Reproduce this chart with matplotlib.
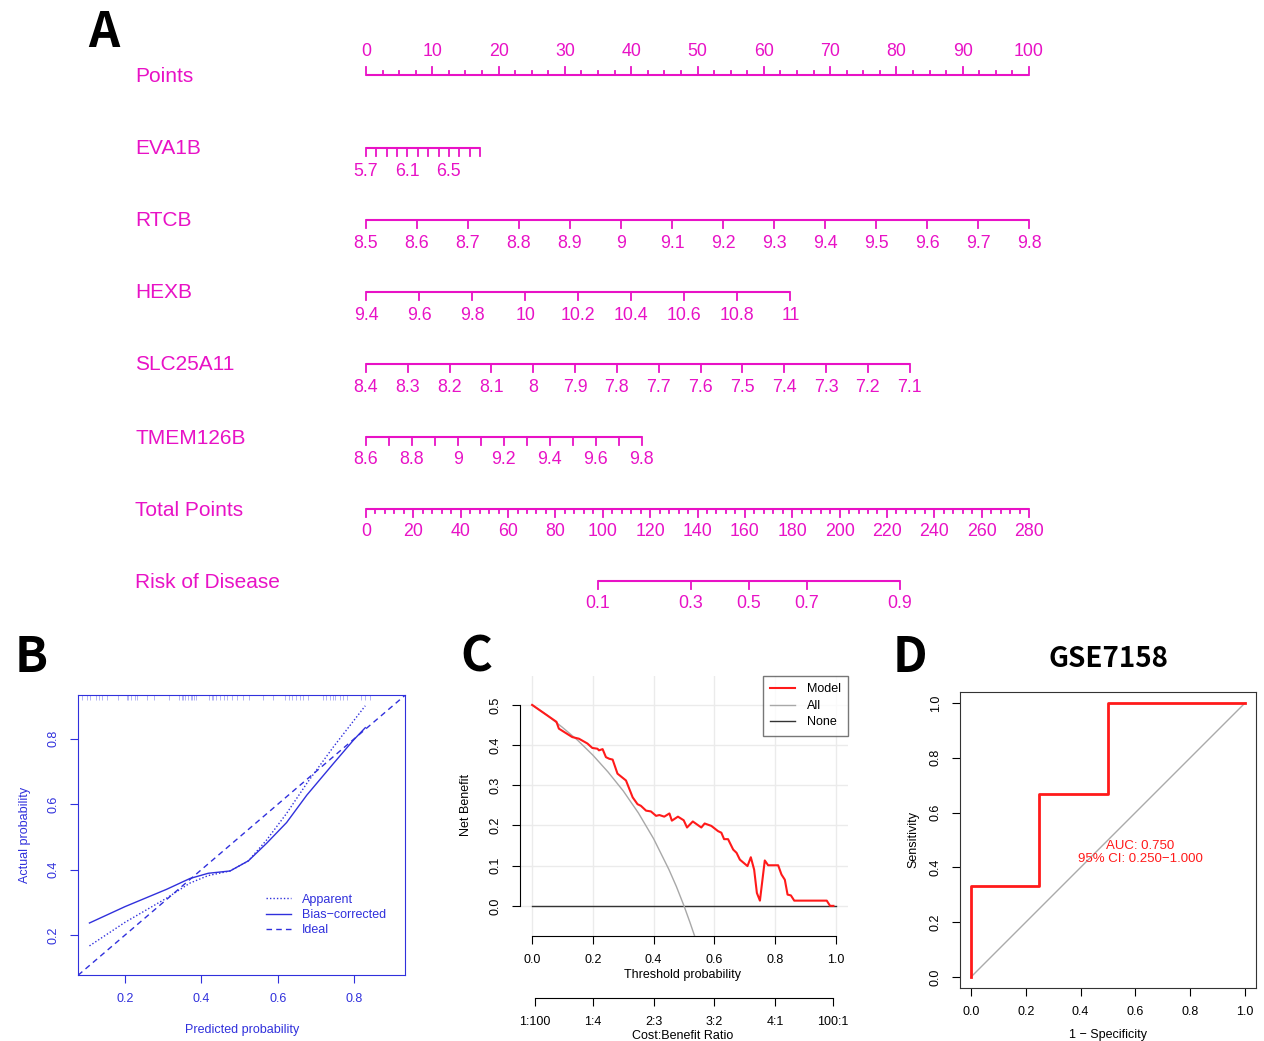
import numpy as np
import matplotlib
matplotlib.use("Agg")
import matplotlib.pyplot as plt
from matplotlib.lines import Line2D

plt.rcParams['font.family'] = ['Liberation Sans', 'DejaVu Sans']
LETTER_FONT = ['Noto Sans CJK SC', 'DejaVu Sans']

W, H = 1264, 1041

# ---------------- data: nomogram (A) ----------------
points_major = [0, 10, 20, 30, 40, 50, 60, 70, 80, 90, 100]
points_minor = list(np.arange(0, 100.1, 2.5))

# name, value at 0 points, value at end, points at end, tick values, labelled values
eva1b_ticks = [5.7, 5.8, 5.9, 6.0, 6.1, 6.2, 6.3, 6.4, 6.5, 6.6, 6.7, 6.8]
eva1b_labels = [5.7, 6.1, 6.5]
rtcb_ticks = [8.5, 8.6, 8.7, 8.8, 8.9, 9.0, 9.1, 9.2, 9.3, 9.4, 9.5, 9.6, 9.7, 9.8]
hexb_ticks = [9.4, 9.6, 9.8, 10.0, 10.2, 10.4, 10.6, 10.8, 11.0]
slc_ticks = [8.4, 8.3, 8.2, 8.1, 8.0, 7.9, 7.8, 7.7, 7.6, 7.5, 7.4, 7.3, 7.2, 7.1]
tmem_ticks = [8.6, 8.7, 8.8, 8.9, 9.0, 9.1, 9.2, 9.3, 9.4, 9.5, 9.6, 9.7, 9.8]
tmem_labels = [8.6, 8.8, 9.0, 9.2, 9.4, 9.6, 9.8]

variables = [
    ("EVA1B", 5.7, 6.8, 17.2, eva1b_ticks, eva1b_labels),
    ("RTCB", 8.5, 9.8, 100.0, rtcb_ticks, rtcb_ticks),
    ("HEXB", 9.4, 11.0, 64.0, hexb_ticks, hexb_ticks),
    ("SLC25A11", 8.4, 7.1, 82.0, slc_ticks, slc_ticks),
    ("TMEM126B", 8.6, 9.8, 41.6, tmem_ticks, tmem_labels),
]

total_major = [0, 20, 40, 60, 80, 100, 120, 140, 160, 180, 200, 220, 240, 260, 280]
total_minor = list(np.arange(0, 280.1, 4))
total_max = 280
risk_labels = [0.1, 0.3, 0.5, 0.7, 0.9]
risk_tp_at_half = 161.7     # total points where risk = 0.5
risk_tp_per_logit = 29.0    # total points per unit of linear predictor

# ---------------- data: calibration (B) ----------------
app_x = [0.107, 0.2, 0.309, 0.37, 0.418, 0.475, 0.523, 0.571, 0.623, 0.676, 0.746, 0.829]
app_y = [0.167, 0.239, 0.313, 0.359, 0.382, 0.396, 0.427, 0.491, 0.572, 0.664, 0.776, 0.901]
bc_x = [0.107, 0.2, 0.309, 0.37, 0.418, 0.475, 0.523, 0.571, 0.623, 0.676, 0.746, 0.798, 0.829]
bc_y = [0.237, 0.287, 0.340, 0.373, 0.389, 0.396, 0.427, 0.481, 0.544, 0.628, 0.725, 0.796, 0.834]
rug = [0.088, 0.10, 0.108, 0.123, 0.132, 0.139, 0.152, 0.183, 0.205, 0.209, 0.216,
       0.227, 0.231, 0.258, 0.275, 0.315, 0.341, 0.348, 0.351, 0.358, 0.365, 0.372,
       0.376, 0.38, 0.387, 0.42, 0.427, 0.430, 0.437, 0.448, 0.459, 0.468, 0.481,
       0.494, 0.508, 0.525, 0.560, 0.587, 0.62, 0.63, 0.637, 0.648, 0.658, 0.665,
       0.679, 0.718, 0.727, 0.736, 0.744, 0.751, 0.762, 0.771, 0.78, 0.819, 0.828, 0.841]

# ---------------- data: decision curve (C) ----------------
model_x = [0, 0.08, 0.088, 0.132, 0.154, 0.182, 0.198, 0.215, 0.22, 0.232, 0.243,
           0.254, 0.265, 0.281, 0.309, 0.331, 0.347, 0.358, 0.375, 0.391, 0.408,
           0.419, 0.435, 0.452, 0.46, 0.48, 0.499, 0.51, 0.529, 0.557, 0.568, 0.59,
           0.612, 0.623, 0.632, 0.645, 0.662, 0.673, 0.684, 0.709, 0.72, 0.731, 0.74,
           0.75, 0.766, 0.777, 0.81, 0.821, 0.832, 0.841, 0.852, 0.863, 0.97, 0.981, 0.992]
model_y = [0.5, 0.458, 0.441, 0.42, 0.416, 0.404, 0.393, 0.391, 0.387, 0.39, 0.37,
           0.366, 0.364, 0.329, 0.312, 0.27, 0.253, 0.249, 0.237, 0.235, 0.224,
           0.226, 0.222, 0.23, 0.212, 0.222, 0.213, 0.195, 0.21, 0.195, 0.205, 0.199,
           0.186, 0.182, 0.166, 0.166, 0.14, 0.132, 0.115, 0.099, 0.121, 0.09, 0.032,
           0.013, 0.113, 0.101, 0.101, 0.078, 0.065, 0.028, 0.026, 0.013, 0.013, 0.0, 0.0]
all_x = [0, 0.05, 0.1, 0.15, 0.2, 0.25, 0.3, 0.35, 0.4, 0.45, 0.475, 0.5, 0.52, 0.535]
all_y = [0.5, 0.474, 0.444, 0.412, 0.375, 0.333, 0.286, 0.231, 0.167, 0.091, 0.048, 0.0, -0.042, -0.075]
none_x = [0, 1]
none_y = [0, 0]
cb_pos = [0.0099, 0.2, 0.4, 0.6, 0.8, 0.99]
cb_labels = ["1:100", "1:4", "2:3", "3:2", "4:1", "100:1"]

# ---------------- data: ROC (D) ----------------
roc_fpr = [0, 0, 0.25, 0.25, 0.5, 0.5, 1.0]
roc_tpr = [0, 0.333, 0.333, 0.667, 0.667, 1.0, 1.0]
auc_text = "AUC: 0.750\n95% CI: 0.250\u22121.000"

MAG = '#E812C6'
BLUE = '#3030DC'
RED = '#FF1A1A'


def rect(x0, y0, x1, y1):
    """pixel box (top-left origin) -> figure fraction rect"""
    return [x0 / W, 1 - y1 / H, (x1 - x0) / W, (y1 - y0) / H]


fig = plt.figure(figsize=(W / 100, H / 100), dpi=100)

# ================= A: nomogram =================
X0, X100 = 366, 1029
ppp = (X100 - X0) / 100.0
axn = fig.add_axes([0, 0, 1, 1])
axn.set_xlim(-X0 / ppp, (W - X0) / ppp)
axn.set_ylim(H, 0)
axn.axis('off')

rows_y = [75, 148, 220, 292, 364, 437, 509, 581]
label_x = (135 - X0) / ppp
lab_off = 23
tick_fs = 12.8
row_fs = 15

# Points
y = rows_y[0]
axn.text(label_x, y + 1, "Points", color=MAG, fontsize=row_fs, va='center', ha='left')
axn.plot([0, 100], [y, y], color=MAG, lw=1.5, solid_capstyle='butt')
for p in points_minor:
    ln = 8 if p in points_major else 4
    axn.plot([p, p], [y, y - ln], color=MAG, lw=1.3)
for p in points_major:
    axn.text(p, y - lab_off, f"{p}", color=MAG, fontsize=tick_fs, ha='center', va='center')

# predictor rows
for i, (name, v0, v1, pmax, ticks, labels) in enumerate(variables):
    y = rows_y[i + 1]
    axn.text(label_x, y + 1, name, color=MAG, fontsize=row_fs, va='center', ha='left')
    to_pts = lambda v: (v - v0) / (v1 - v0) * pmax
    axn.plot([0, pmax], [y, y], color=MAG, lw=1.5, solid_capstyle='butt')
    for t in ticks:
        axn.plot([to_pts(t), to_pts(t)], [y, y + 8], color=MAG, lw=1.3)
    for t in labels:
        axn.text(to_pts(t), y + lab_off, f"{t:g}", color=MAG, fontsize=tick_fs,
                 ha='center', va='center')

# Total points
y = rows_y[6]
axn.text(label_x, y + 1, "Total Points", color=MAG, fontsize=row_fs, va='center', ha='left')
tp_to_x = lambda tp: tp * 100.0 / total_max
axn.plot([0, 100], [y, y], color=MAG, lw=1.5, solid_capstyle='butt')
for tp in total_minor:
    ln = 8 if tp in total_major else 4
    axn.plot([tp_to_x(tp)] * 2, [y, y + ln], color=MAG, lw=1.3)
for tp in total_major:
    axn.text(tp_to_x(tp), y + lab_off, f"{tp}", color=MAG, fontsize=tick_fs, ha='center', va='center')

# Risk
y = rows_y[7]
axn.text(label_x, y + 1, "Risk of Disease", color=MAG, fontsize=row_fs, va='center', ha='left')
risk_x = [tp_to_x(risk_tp_at_half + risk_tp_per_logit * np.log(p / (1 - p))) for p in risk_labels]
axn.plot([risk_x[0], risk_x[-1]], [y, y], color=MAG, lw=1.5, solid_capstyle='butt')
for p, rx in zip(risk_labels, risk_x):
    axn.plot([rx, rx], [y, y + 8], color=MAG, lw=1.3)
    axn.text(rx, y + lab_off, f"{p:g}", color=MAG, fontsize=tick_fs, ha='center', va='center')

# panel letters
for letter, lx, ly in [("A", 88, 47), ("B", 15, 672), ("C", 460, 672), ("D", 893, 672)]:
    fig.text(lx / W, 1 - ly / H, letter, fontsize=35, fontweight='bold',
             family=LETTER_FONT, ha='left', va='baseline')

small = 9

# ================= B: calibration =================
axb = fig.add_axes(rect(78, 695, 405, 975))
axb.set_xlim(0.077, 0.933)
axb.set_ylim(0.078, 0.934)
axb.plot(app_x, app_y, ls=(0, (1, 1.5)), color=BLUE, lw=1, label="Apparent")
axb.plot(bc_x, bc_y, ls='-', color=BLUE, lw=1, label="Bias\u2212corrected")
axb.plot([0, 1], [0, 1], ls=(0, (4, 3)), color=BLUE, lw=1, label="Ideal")
axb.vlines(rug, 0.982, 1.0, transform=axb.get_xaxis_transform(), color='#B4B4F4', lw=0.7)
axb.set_xticks([0.2, 0.4, 0.6, 0.8])
axb.set_yticks([0.2, 0.4, 0.6, 0.8])
for s in axb.spines.values():
    s.set_color(BLUE)
axb.tick_params(colors=BLUE, labelsize=small, length=6, pad=7)
for lab in axb.get_yticklabels():
    lab.set_rotation(90)
    lab.set_va('center')
axb.legend(loc='upper left', bbox_to_anchor=(0.575, 0.29), frameon=False, fontsize=small,
           handlelength=2.0, handletextpad=0.9, labelspacing=0.25, borderpad=0,
           borderaxespad=0, labelcolor=BLUE)
fig.text(242 / W, 1 - 1030 / H, "Predicted probability", color=BLUE, fontsize=small,
         ha='center', va='center')
fig.text(25 / W, 1 - 835 / H, "Actual probability", color=BLUE, fontsize=small,
         ha='center', va='center', rotation=90)

# ================= C: decision curve =================
axc = fig.add_axes(rect(520, 676, 848, 936))
axc.set_xlim(-0.04, 1.04)
axc.set_ylim(-0.075, 0.572)
axc.set_axisbelow(True)
axc.grid(True, color='#EBEBEB', lw=1)
axc.set_xticks([0, 0.2, 0.4, 0.6, 0.8, 1.0])
axc.set_yticks([0, 0.1, 0.2, 0.3, 0.4, 0.5])
axc.set_xticklabels(["0.0", "0.2", "0.4", "0.6", "0.8", "1.0"])
axc.set_yticklabels(["0.0", "0.1", "0.2", "0.3", "0.4", "0.5"])
axc.plot(none_x, none_y, color='#333333', lw=1, label="None", zorder=2)
axc.plot(all_x, all_y, color='#A8A8A8', lw=1, label="All", zorder=3)
axc.plot(model_x, model_y, color=RED, lw=1.5, label="Model", zorder=4)
for k in ['top', 'right']:
    axc.spines[k].set_visible(False)
axc.spines['left'].set_bounds(0, 0.5)
axc.spines['bottom'].set_bounds(0, 1)
axc.tick_params(labelsize=small, length=6, pad=7)
for lab in axc.get_yticklabels():
    lab.set_rotation(90)
    lab.set_va('center')
hs = [Line2D([], [], color=RED, lw=1.5), Line2D([], [], color='#A8A8A8', lw=1),
      Line2D([], [], color='#333333', lw=1)]
legc = axc.legend(hs, ["Model", "All", "None"], loc='upper right', borderaxespad=0,
                  fancybox=False, fontsize=small, handlelength=2.0, handletextpad=0.9,
                  labelspacing=0.35, borderpad=0.6)
legc.get_frame().set_edgecolor('#555555')
legc.get_frame().set_linewidth(1)
fig.text(683 / W, 1 - 975 / H, "Threshold probability", fontsize=small, ha='center', va='center')
fig.text(466 / W, 1 - 805 / H, "Net Benefit", fontsize=small, ha='center', va='center', rotation=90)

axcb = fig.add_axes([520 / W, 1 - 998 / H, 328 / W, 0.0001])
axcb.set_xlim(-0.04, 1.04)
for k in ['top', 'right', 'left']:
    axcb.spines[k].set_visible(False)
axcb.spines['bottom'].set_bounds(cb_pos[0], cb_pos[-1])
axcb.set_yticks([])
axcb.set_xticks(cb_pos)
axcb.set_xticklabels(cb_labels)
axcb.tick_params(labelsize=small, length=6, pad=7)
axcb.patch.set_alpha(0)
fig.text(683 / W, 1 - 1036 / H, "Cost:Benefit Ratio", fontsize=small, ha='center', va='center')

# ================= D: ROC =================
axd = fig.add_axes(rect(960, 692, 1256, 988))
axd.set_xlim(-0.04, 1.04)
axd.set_ylim(-0.04, 1.04)
axd.plot([0, 1], [0, 1], color='#AAAAAA', lw=1)
axd.plot(roc_fpr, roc_tpr, color=RED, lw=2)
axd.text(0.617, 0.455, auc_text, color=RED, fontsize=9.5, ha='center', va='center',
         linespacing=1.05)
ticks01 = [0, 0.2, 0.4, 0.6, 0.8, 1.0]
axd.set_xticks(ticks01)
axd.set_yticks(ticks01)
axd.set_xticklabels([f"{t:.1f}" for t in ticks01])
axd.set_yticklabels([f"{t:.1f}" for t in ticks01])
for s in axd.spines.values():
    s.set_color('#333333')
axd.tick_params(labelsize=small, length=6, pad=7)
for lab in axd.get_yticklabels():
    lab.set_rotation(90)
    lab.set_va('center')
fig.text(1108 / W, 1 - 667 / H, "GSE7158", fontsize=20, family=LETTER_FONT,
         fontweight='bold', ha='center', va='baseline')
fig.text(1108 / W, 1 - 1035 / H, "1 \u2212 Specificity", fontsize=small, ha='center', va='center')
fig.text(913 / W, 1 - 840 / H, "Sensitivity", fontsize=small, ha='center', va='center', rotation=90)

fig.savefig("out.png", dpi=100)
